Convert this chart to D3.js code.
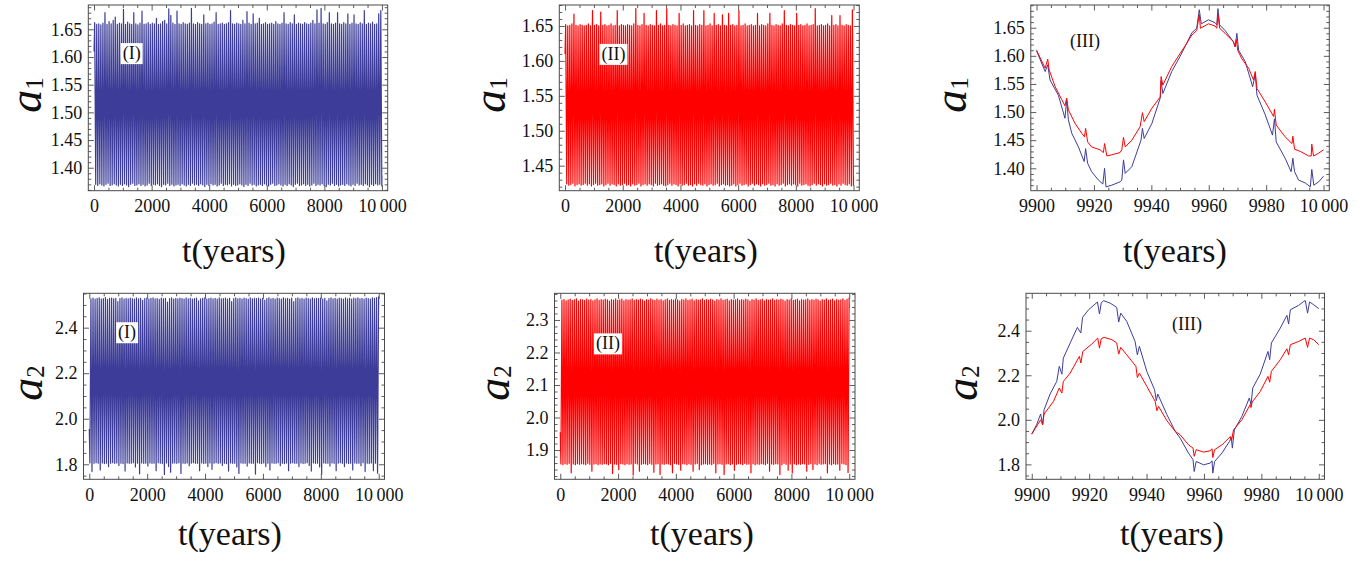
<!DOCTYPE html>
<html><head><meta charset="utf-8">
<script src="https://cdn.jsdelivr.net/npm/d3@7"></script>
<style>
body{margin:0;background:#fff}
svg{display:block}
text{font-family:"Liberation Serif","Times New Roman",serif}
</style>
</head><body>
<svg id="c" width="1364" height="563"></svg>
<script>
// ---------------- DATA ----------------
const BLUE = "#3d3d99", RED = "#ff0000";
// oscillation cycle timing (III)
const cycleStart = 21.5, cyclePeriod = 71.5;

// a1, model I (blue): per-cycle maxima and minima
const a1I_max = [1.662,1.659,1.660,1.658,1.661,1.680,1.659,1.664,1.660,1.666,
1.672,1.659,1.661,1.660,1.686,1.659,1.663,1.660,1.659,1.680,
1.660,1.658,1.661,1.683,1.659,1.660,1.662,1.659,1.661,1.660,
1.670,1.659,1.660,1.664,1.666,1.660,1.687,1.675,1.661,1.659,
1.683,1.660,1.659,1.662,1.660,1.659,1.661,1.688,1.660,1.659,
1.662,1.660,1.659,1.676,1.660,1.661,1.659,1.660,1.663,1.680,
1.659,1.660,1.661,1.659,1.660,1.662,1.684,1.660,1.659,1.661,
1.660,1.659,1.666,1.660,1.682,1.661,1.659,1.678,1.660,1.661,
1.670,1.659,1.660,1.662,1.659,1.660,1.661,1.659,1.664,1.660,
1.659,1.661,1.680,1.660,1.659,1.662,1.660,1.676,1.659,1.661,
1.660,1.659,1.662,1.660,1.659,1.661,1.666,1.660,1.685,1.661,
1.688,1.660,1.659,1.662,1.680,1.660,1.659,1.661,1.680,1.660,
1.659,1.662,1.660,1.678,1.659,1.661,1.676,1.660,1.659,1.662,
1.660,1.684,1.659,1.661,1.660,1.663,1.659,1.660,1.678,1.684];
const a1I_min = [1.370,1.368,1.371,1.369,1.367,1.370,1.372,1.368,1.369,1.371,
1.369,1.367,1.370,1.368,1.371,1.369,1.366,1.370,1.372,1.368,
1.369,1.371,1.368,1.370,1.367,1.369,1.372,1.368,1.370,1.369,
1.371,1.368,1.366,1.370,1.369,1.372,1.368,1.370,1.367,1.369,
1.370,1.368,1.371,1.369,1.367,1.370,1.368,1.372,1.369,1.370,
1.368,1.371,1.369,1.366,1.370,1.368,1.371,1.369,1.370,1.367,
1.369,1.372,1.368,1.370,1.369,1.371,1.367,1.370,1.368,1.369,
1.371,1.369,1.366,1.370,1.368,1.372,1.369,1.370,1.367,1.369,
1.370,1.368,1.371,1.369,1.367,1.370,1.372,1.368,1.369,1.371,
1.369,1.367,1.370,1.368,1.371,1.369,1.366,1.370,1.372,1.368,
1.369,1.371,1.368,1.370,1.367,1.369,1.372,1.368,1.370,1.369,
1.371,1.368,1.366,1.370,1.369,1.372,1.368,1.370,1.367,1.369,
1.370,1.368,1.371,1.369,1.367,1.370,1.368,1.372,1.369,1.370,
1.368,1.371,1.369,1.366,1.370,1.368,1.371,1.369,1.370,1.367];
const a1I_startEnd = [1.610, 1.386];

// a1, model II (red)
const a1II_max = [1.652,1.650,1.651,1.653,1.667,1.651,1.650,1.652,1.651,1.650,
1.651,1.653,1.650,1.672,1.651,1.652,1.650,1.670,1.651,1.652,
1.650,1.651,1.653,1.650,1.651,1.672,1.650,1.652,1.651,1.650,
1.652,1.651,1.650,1.653,1.675,1.651,1.650,1.652,1.668,1.651,
1.650,1.652,1.651,1.650,1.672,1.651,1.653,1.650,1.651,1.675,
1.651,1.650,1.652,1.651,1.650,1.668,1.651,1.653,1.650,1.651,
1.652,1.650,1.672,1.651,1.650,1.652,1.651,1.672,1.650,1.651,
1.653,1.650,1.668,1.651,1.652,1.650,1.666,1.651,1.650,1.668,
1.651,1.652,1.650,1.651,1.672,1.650,1.651,1.653,1.650,1.651,
1.652,1.650,1.651,1.668,1.650,1.652,1.651,1.650,1.653,1.668,
1.651,1.650,1.652,1.651,1.650,1.653,1.672,1.651,1.650,1.652,
1.651,1.650,1.668,1.651,1.652,1.650,1.651,1.653,1.650,1.651,
1.652,1.675,1.650,1.651,1.652,1.650,1.651,1.653,1.650,1.665,
1.651,1.652,1.650,1.665,1.651,1.650,1.652,1.651,1.650,1.673];
const a1II_min = [1.424,1.422,1.423,1.425,1.421,1.423,1.424,1.422,1.423,1.425,
1.422,1.424,1.421,1.423,1.425,1.422,1.423,1.424,1.421,1.423,
1.425,1.422,1.424,1.423,1.421,1.424,1.422,1.423,1.425,1.422,
1.423,1.421,1.424,1.422,1.423,1.425,1.421,1.423,1.424,1.422,
1.424,1.423,1.421,1.425,1.422,1.423,1.424,1.422,1.421,1.423,
1.425,1.422,1.424,1.423,1.421,1.424,1.422,1.423,1.425,1.422,
1.423,1.421,1.424,1.422,1.425,1.423,1.422,1.424,1.421,1.423,
1.424,1.422,1.423,1.425,1.421,1.423,1.424,1.422,1.423,1.421,
1.422,1.424,1.421,1.423,1.425,1.422,1.423,1.424,1.421,1.423,
1.425,1.422,1.424,1.423,1.421,1.424,1.422,1.423,1.425,1.422,
1.423,1.421,1.424,1.422,1.423,1.425,1.421,1.423,1.424,1.422,
1.424,1.423,1.421,1.425,1.422,1.423,1.424,1.422,1.421,1.423,
1.425,1.422,1.424,1.423,1.421,1.424,1.422,1.423,1.425,1.422,
1.423,1.421,1.424,1.422,1.425,1.423,1.422,1.424,1.421,1.422];
const a1II_startEnd = [1.610, 1.433];

// a2, model I (blue): per-cycle minima (when a1 peaks) and maxima
const a2I_min = [1.806,1.768,1.804,1.807,1.805,1.775,1.806,1.803,1.805,1.790,
1.805,1.807,1.804,1.806,1.795,1.805,1.803,1.770,1.806,1.804,
1.805,1.807,1.788,1.805,1.758,1.806,1.804,1.805,1.792,1.806,
1.804,1.805,1.772,1.807,1.805,1.803,1.755,1.806,1.790,1.765,
1.805,1.806,1.804,1.807,1.760,1.805,1.803,1.806,1.794,1.805,
1.807,1.804,1.805,1.772,1.806,1.803,1.805,1.790,1.806,1.778,
1.805,1.807,1.804,1.806,1.795,1.805,1.803,1.770,1.806,1.804,
1.805,1.788,1.760,1.806,1.804,1.805,1.792,1.806,1.804,1.805,
1.757,1.807,1.805,1.803,1.806,1.790,1.805,1.775,1.806,1.804,
1.805,1.807,1.794,1.805,1.803,1.806,1.772,1.805,1.807,1.804,
1.805,1.790,1.806,1.803,1.805,1.807,1.795,1.770,1.806,1.804,
1.805,1.788,1.756,1.806,1.804,1.805,1.792,1.806,1.804,1.772,
1.805,1.807,1.804,1.790,1.806,1.803,1.805,1.775,1.806,1.804,
1.805,1.794,1.807,1.768,1.805,1.803,1.806,1.772,1.805,1.761];
const a2I_max = [2.527,2.530,2.525,2.529,2.531,2.526,2.528,2.532,2.524,2.529,
2.530,2.527,2.529,2.515,2.528,2.531,2.526,2.529,2.527,2.530,
2.528,2.525,2.531,2.527,2.529,2.520,2.528,2.530,2.526,2.529,
2.531,2.527,2.528,2.524,2.530,2.527,2.529,2.512,2.528,2.531,
2.526,2.529,2.527,2.530,2.528,2.525,2.531,2.527,2.529,2.526,
2.528,2.530,2.518,2.527,2.529,2.531,2.526,2.528,2.530,2.527,
2.529,2.525,2.531,2.527,2.528,2.530,2.526,2.529,2.515,2.528,
2.531,2.527,2.529,2.526,2.530,2.528,2.525,2.531,2.527,2.529,
2.528,2.530,2.526,2.529,2.520,2.528,2.531,2.527,2.529,2.526,
2.530,2.528,2.525,2.531,2.527,2.529,2.526,2.530,2.514,2.528,
2.531,2.527,2.529,2.526,2.530,2.528,2.525,2.531,2.527,2.529,
2.528,2.530,2.526,2.529,2.518,2.528,2.531,2.527,2.529,2.526,
2.530,2.528,2.525,2.531,2.527,2.529,2.526,2.530,2.528,2.531,
2.527,2.529,2.526,2.530,2.528,2.525,2.531,2.529,2.532,2.535];
const a2I_startEnd = [1.955, 2.499];

// a2, model II (red)
const a2II_min = [1.857,1.855,1.858,1.856,1.859,1.830,1.857,1.855,1.858,1.856,
1.858,1.857,1.855,1.859,1.856,1.835,1.857,1.858,1.855,1.857,
1.856,1.858,1.857,1.855,1.859,1.828,1.857,1.856,1.840,1.858,
1.857,1.855,1.858,1.856,1.857,1.823,1.859,1.857,1.835,1.856,
1.858,1.857,1.855,1.859,1.856,1.832,1.857,1.858,1.825,1.857,
1.856,1.858,1.857,1.855,1.830,1.859,1.857,1.856,1.838,1.858,
1.857,1.855,1.858,1.856,1.835,1.857,1.859,1.840,1.855,1.857,
1.858,1.856,1.857,1.855,1.859,1.830,1.857,1.858,1.856,1.825,
1.857,1.858,1.855,1.857,1.838,1.856,1.858,1.857,1.855,1.859,
1.856,1.857,1.830,1.858,1.855,1.857,1.856,1.858,1.857,1.855,
1.859,1.835,1.857,1.856,1.858,1.857,1.825,1.855,1.859,1.856,
1.838,1.857,1.830,1.858,1.855,1.857,1.856,1.858,1.857,1.835,
1.856,1.858,1.840,1.857,1.855,1.859,1.856,1.857,1.858,1.830,
1.857,1.855,1.858,1.856,1.857,1.838,1.859,1.857,1.855,1.831];
const a2II_max = [2.361,2.363,2.359,2.362,2.364,2.360,2.362,2.365,2.358,2.363,
2.362,2.360,2.364,2.361,2.363,2.359,2.362,2.365,2.360,2.363,
2.361,2.364,2.362,2.358,2.363,2.361,2.365,2.360,2.362,2.364,
2.359,2.363,2.361,2.362,2.365,2.360,2.363,2.361,2.364,2.362,
2.358,2.363,2.361,2.365,2.362,2.360,2.364,2.361,2.363,2.359,
2.362,2.365,2.360,2.363,2.361,2.364,2.362,2.358,2.363,2.361,
2.365,2.360,2.362,2.364,2.359,2.363,2.361,2.362,2.365,2.360,
2.363,2.361,2.364,2.362,2.358,2.363,2.361,2.365,2.360,2.362,
2.364,2.359,2.363,2.361,2.362,2.365,2.360,2.363,2.361,2.364,
2.362,2.358,2.363,2.361,2.365,2.360,2.362,2.364,2.359,2.363,
2.361,2.362,2.365,2.360,2.363,2.361,2.364,2.362,2.358,2.363,
2.361,2.365,2.360,2.362,2.364,2.359,2.363,2.361,2.362,2.365,
2.360,2.363,2.361,2.364,2.362,2.358,2.363,2.361,2.365,2.360,
2.362,2.364,2.359,2.363,2.361,2.362,2.365,2.360,2.364,2.367];
const a2II_startEnd = [1.955, 2.337];

// Panel (III): last 100 years, [t, value]
const a1III_blue = [[9900.0,1.609],[9903.0,1.572],[9903.9,1.584],[9904.7,1.557],[9907.6,1.530],[9909.9,1.489],[9910.5,1.521],[9911.1,1.486],[9912.3,1.462],[9914.6,1.438],[9916.6,1.412],[9917.1,1.435],[9917.8,1.409],[9919.2,1.394],[9921.6,1.379],[9923.1,1.372],[9923.7,1.400],[9924.2,1.367],[9926.2,1.370],[9929.1,1.376],[9929.7,1.379],[9930.3,1.415],[9930.9,1.391],[9933.2,1.403],[9936.4,1.450],[9936.9,1.471],[9937.5,1.453],[9940.2,1.480],[9943.1,1.525],[9943.4,1.556],[9944.0,1.533],[9947.1,1.572],[9950.0,1.599],[9951.8,1.617],[9954.1,1.641],[9955.8,1.649],[9956.7,1.682],[9957.4,1.657],[9959.9,1.664],[9962.2,1.659],[9962.8,1.655],[9963.2,1.684],[9963.8,1.655],[9965.7,1.645],[9968.6,1.625],[9969.2,1.616],[9969.8,1.640],[9970.4,1.610],[9972.7,1.590],[9975.3,1.545],[9976.2,1.568],[9976.8,1.530],[9979.7,1.495],[9982.2,1.459],[9982.9,1.488],[9983.5,1.447],[9986.6,1.418],[9988.7,1.394],[9989.3,1.418],[9989.9,1.394],[9991.3,1.379],[9993.6,1.374],[9995.4,1.367],[9995.9,1.398],[9996.6,1.370],[9998.3,1.376],[10000,1.386]];
const a1III_red = [[9900.0,1.610],[9903.0,1.578],[9903.9,1.594],[9904.4,1.575],[9906.5,1.545],[9908.8,1.522],[9909.9,1.511],[9910.5,1.525],[9911.1,1.504],[9913.4,1.480],[9915.8,1.462],[9916.7,1.456],[9917.1,1.471],[9917.8,1.447],[9919.2,1.438],[9922.1,1.433],[9923.3,1.428],[9923.7,1.444],[9924.5,1.422],[9926.2,1.424],[9929.1,1.428],[9929.7,1.433],[9930.3,1.455],[9930.9,1.438],[9933.2,1.450],[9936.1,1.474],[9936.9,1.499],[9937.5,1.483],[9940.2,1.507],[9943.1,1.527],[9943.4,1.563],[9944.0,1.548],[9947.1,1.581],[9950.0,1.604],[9951.8,1.618],[9954.1,1.637],[9955.8,1.645],[9956.7,1.673],[9957.1,1.649],[9959.9,1.657],[9962.2,1.653],[9962.8,1.649],[9963.2,1.673],[9963.8,1.649],[9965.7,1.640],[9968.6,1.625],[9969.2,1.616],[9969.6,1.629],[9970.1,1.610],[9971.5,1.595],[9973.9,1.578],[9975.6,1.557],[9976.2,1.572],[9976.8,1.542],[9979.7,1.518],[9982.6,1.492],[9982.9,1.505],[9983.5,1.477],[9986.6,1.456],[9989.0,1.444],[9989.3,1.457],[9989.9,1.434],[9991.9,1.430],[9994.8,1.422],[9995.7,1.422],[9995.9,1.443],[9996.5,1.422],[9998.3,1.427],[10000,1.433]];
const a2III_blue = [[9900.0,1.936],[9901.7,1.978],[9903.1,2.026],[9903.8,1.978],[9904.3,2.045],[9906.4,2.116],[9908.7,2.172],[9909.6,2.240],[9910.5,2.205],[9911.0,2.277],[9913.4,2.345],[9915.9,2.415],[9917.1,2.390],[9917.7,2.460],[9919.8,2.494],[9922.9,2.529],[9923.6,2.475],[9924.2,2.524],[9925.0,2.535],[9927.3,2.524],[9929.6,2.505],[9930.3,2.439],[9931.0,2.479],[9933.1,2.442],[9936.0,2.352],[9936.8,2.292],[9937.5,2.330],[9940.1,2.217],[9942.8,2.135],[9943.4,2.086],[9943.9,2.116],[9947.1,2.023],[9950.0,1.948],[9951.7,1.918],[9954.6,1.851],[9956.2,1.821],[9956.6,1.768],[9957.3,1.813],[9959.9,1.798],[9962.2,1.806],[9962.8,1.816],[9963.1,1.761],[9963.7,1.813],[9966.3,1.851],[9968.9,1.903],[9969.5,1.921],[9969.9,1.873],[9970.6,1.955],[9973.2,2.015],[9975.8,2.098],[9976.4,2.068],[9977.0,2.143],[9979.6,2.205],[9982.3,2.307],[9982.9,2.270],[9983.5,2.345],[9986.6,2.412],[9988.9,2.469],[9989.5,2.430],[9990.1,2.494],[9993.0,2.514],[9994.8,2.532],[9995.3,2.535],[9996.1,2.479],[9996.8,2.529],[9998.2,2.517],[10000,2.499]];
const a2III_red = [[9900.0,1.936],[9903.1,2.000],[9903.8,1.978],[9904.3,2.026],[9907.6,2.083],[9909.6,2.143],[9910.5,2.120],[9911.0,2.172],[9913.4,2.210],[9916.6,2.285],[9917.1,2.255],[9917.8,2.307],[9920.9,2.340],[9923.0,2.367],[9923.6,2.322],[9924.2,2.364],[9925.2,2.370],[9927.9,2.360],[9929.6,2.345],[9930.3,2.295],[9931.0,2.325],[9933.1,2.292],[9936.3,2.240],[9936.8,2.190],[9937.5,2.210],[9940.1,2.150],[9943.0,2.083],[9943.6,2.041],[9944.2,2.060],[9947.1,1.996],[9950.0,1.948],[9951.7,1.933],[9954.6,1.888],[9956.2,1.873],[9956.6,1.836],[9957.3,1.866],[9959.9,1.855],[9962.2,1.861],[9962.8,1.870],[9963.1,1.831],[9963.7,1.866],[9966.3,1.888],[9969.2,1.925],[9969.6,1.905],[9970.3,1.955],[9973.2,2.000],[9976.1,2.068],[9976.4,2.055],[9976.8,2.080],[9979.6,2.127],[9982.3,2.195],[9982.9,2.169],[9983.5,2.218],[9986.6,2.270],[9988.9,2.319],[9989.5,2.292],[9990.1,2.337],[9993.0,2.352],[9995.3,2.367],[9996.1,2.325],[9996.8,2.367],[9998.2,2.360],[10000,2.337]];

// tick labels
const xTicksFull = [0,2000,4000,6000,8000,10000];
const xTicksLast = [9900,9920,9940,9960,9980,10000];
const yTicksA1I = [1.40,1.45,1.50,1.55,1.60,1.65];
const yTicksA1II = [1.45,1.50,1.55,1.60,1.65];
const yTicksA2I = [1.8,2.0,2.2,2.4];
const yTicksA2II = [1.9,2.0,2.1,2.2,2.3];
const panelTags = ["(I)","(II)","(III)"];

// ---------------- BUILD ----------------
function cycles(startEnd, first, second){
  const pts = [[0, startEnd[0]]];
  first.forEach((v,i)=>{
    pts.push([cycleStart + i*cyclePeriod, v]);
    pts.push([cycleStart + i*cyclePeriod + cyclePeriod/2, second[i]]);
  });
  pts.push([10000, startEnd[1]]);
  return pts;
}
const fmtX = d => d === 10000 ? "10\u2009000" : String(d);

const DW = 1.2;
const panels = [
 {id:1, frame:[88.3,5,387.7,190.7], xd:[-200,10200], yd:[1.3585,1.6939],
  xt:xTicksFull, xm:500, yt:yTicksA1I, ym:0.01, yf:d3.format(".2f"), sub:"1",
  series:[{d:cycles(a1I_startEnd,a1I_max,a1I_min), c:BLUE, w:DW}],
  tag:panelTags[0], tagAt:[1306,1.607], box:true, ylab:[41,95], xlab:[234,262]},
 {id:2, frame:[559.3,5,859.3,190.7], xd:[-200,10200], yd:[1.4142,1.680],
  xt:xTicksFull, xm:500, yt:yTicksA1II, ym:0.01, yf:d3.format(".2f"), sub:"1",
  series:[{d:cycles(a1II_startEnd,a1II_max,a1II_min), c:RED, w:DW}],
  tag:panelTags[1], tagAt:[1678,1.610], box:true, ylab:[505,95], xlab:[706,262]},
 {id:3, frame:[1030.8,5,1329.3,190.7], xd:[9898,10002], yd:[1.3602,1.6904],
  xt:xTicksLast, xm:5, yt:yTicksA1I, ym:0.01, yf:d3.format(".2f"), sub:"1",
  series:[{d:a1III_blue, c:BLUE, w:1}, {d:a1III_red, c:RED, w:1}],
  tag:panelTags[2], tagAt:[9916.9,1.6255], box:false, ylab:[966,95], xlab:[1175,262]},
 {id:4, frame:[83.5,293.3,384.5,479.3], xd:[-200,10200], yd:[1.734,2.551],
  xt:xTicksFull, xm:500, yt:yTicksA2I, ym:0.05, yf:d3.format(".1f"), sub:"2",
  series:[{d:cycles(a2I_startEnd,a2I_min,a2I_max), c:BLUE, w:DW}],
  tag:panelTags[0], tagAt:[1307,2.38], box:true, ylab:[41.5,383], xlab:[230,545]},
 {id:5, frame:[554.5,293.3,855,479.3], xd:[-200,10200], yd:[1.81,2.382],
  xt:xTicksFull, xm:500, yt:yTicksA2II, ym:0.02, yf:d3.format(".1f"), sub:"2",
  series:[{d:cycles(a2II_startEnd,a2II_min,a2II_max), c:RED, w:DW}],
  tag:panelTags[1], tagAt:[1650,2.228], box:true, ylab:[509,383], xlab:[702,545]},
 {id:6, frame:[1026,293.3,1324.5,479.3], xd:[9898,10002], yd:[1.733,2.568],
  xt:xTicksLast, xm:5, yt:yTicksA2I, ym:0.05, yf:d3.format(".1f"), sub:"2",
  series:[{d:a2III_blue, c:BLUE, w:1}, {d:a2III_red, c:RED, w:1}],
  tag:panelTags[2], tagAt:[9954.1,2.429], box:false, ylab:[977,383], xlab:[1172,545]}
];

const svg = d3.select("#c");
const FRAME = "#4a4a4a", MAJ = 5.5, MIN = 3;

function rangeTicks(dom, step){
  const out = [];
  const s = Math.ceil(dom[0]/step - 1e-9), e = Math.floor(dom[1]/step + 1e-9);
  for (let k=s; k<=e; k++) out.push(+(k*step).toFixed(6));
  return out;
}

panels.forEach(p=>{
  const [x0,y0,x1,y1] = p.frame;
  const x = d3.scaleLinear().domain(p.xd).range([x0,x1]);
  const y = d3.scaleLinear().domain(p.yd).range([y1,y0]);
  const g = svg.append("g");
  const cid = "clip"+p.id;
  svg.append("clipPath").attr("id",cid).append("rect")
    .attr("x",x0).attr("y",y0).attr("width",x1-x0).attr("height",y1-y0);
  const lg = g.append("g").attr("clip-path",`url(#${cid})`);
  const line = d3.line().x(d=>x(d[0])).y(d=>y(d[1]));
  p.series.forEach(s=>{
    lg.append("path").datum(s.d).attr("d",line).attr("fill","none")
      .attr("stroke",s.c).attr("stroke-width",s.w).attr("stroke-linejoin","round");
  });

  // tag label
  const tg = g.append("g");
  const tt = tg.append("text").attr("x",x(p.tagAt[0])).attr("y",y(p.tagAt[1]))
    .attr("text-anchor","middle").attr("dominant-baseline","central")
    .attr("font-size",18).attr("fill","#111").text(p.tag);
  if (p.box){
    const bb = tt.node().getBBox();
    tg.insert("rect","text").attr("x",bb.x-2).attr("y",bb.y).attr("width",bb.width+4)
      .attr("height",bb.height).attr("fill","#fff");
  }

  // axes
  const xMinor = rangeTicks(p.xd, p.xm).filter(v=>!p.xt.includes(v));
  const yMinor = rangeTicks(p.yd, p.ym).filter(v=>!p.yt.some(t=>Math.abs(t-v)<1e-6));
  function ax(axisFn, scale, vals, size, fmt, tx, ty, pad){
    const a = axisFn(scale).tickValues(vals).tickSize(-size).tickPadding(pad||0)
      .tickFormat(fmt || (()=>""));
    const ag = g.append("g").attr("transform",`translate(${tx},${ty})`).call(a);
    ag.select(".domain").remove();
    ag.attr("color",FRAME).attr("font-family",null).attr("font-size",18);
    ag.selectAll("line").attr("stroke-width",0.9);
    ag.selectAll("text").attr("fill","#111")
      .style("font-family",'"Liberation Serif","Times New Roman",serif');
    return ag;
  }
  ax(d3.axisBottom, x, p.xt, MAJ, fmtX, 0, y1, 9);
  ax(d3.axisBottom, x, xMinor, MIN, null, 0, y1);
  ax(d3.axisTop, x, p.xt, MAJ, null, 0, y0);
  ax(d3.axisTop, x, xMinor, MIN, null, 0, y0);
  ax(d3.axisLeft, y, p.yt, MAJ, p.yf, x0, 0, 6);
  ax(d3.axisLeft, y, yMinor, MIN, null, x0, 0);
  ax(d3.axisRight, y, p.yt, MAJ, null, x1, 0);
  ax(d3.axisRight, y, yMinor, MIN, null, x1, 0);

  g.append("rect").attr("x",x0).attr("y",y0).attr("width",x1-x0).attr("height",y1-y0)
    .attr("fill","none").attr("stroke",FRAME).attr("stroke-width",1);

  // axis titles
  g.append("text").attr("x",p.xlab[0]).attr("y",p.xlab[1]).attr("text-anchor","middle")
    .attr("font-size",34).attr("fill","#111").text("t(years)");
  const yt = g.append("text").attr("transform",`translate(${p.ylab[0]},${p.ylab[1]}) rotate(-90)`)
    .attr("text-anchor","middle").attr("fill","#111");
  yt.append("tspan").attr("font-style","italic").attr("font-size",46).text("a");
  yt.append("tspan").attr("font-size",25).attr("dy",2).text(p.sub);
});
</script>
</body></html>
